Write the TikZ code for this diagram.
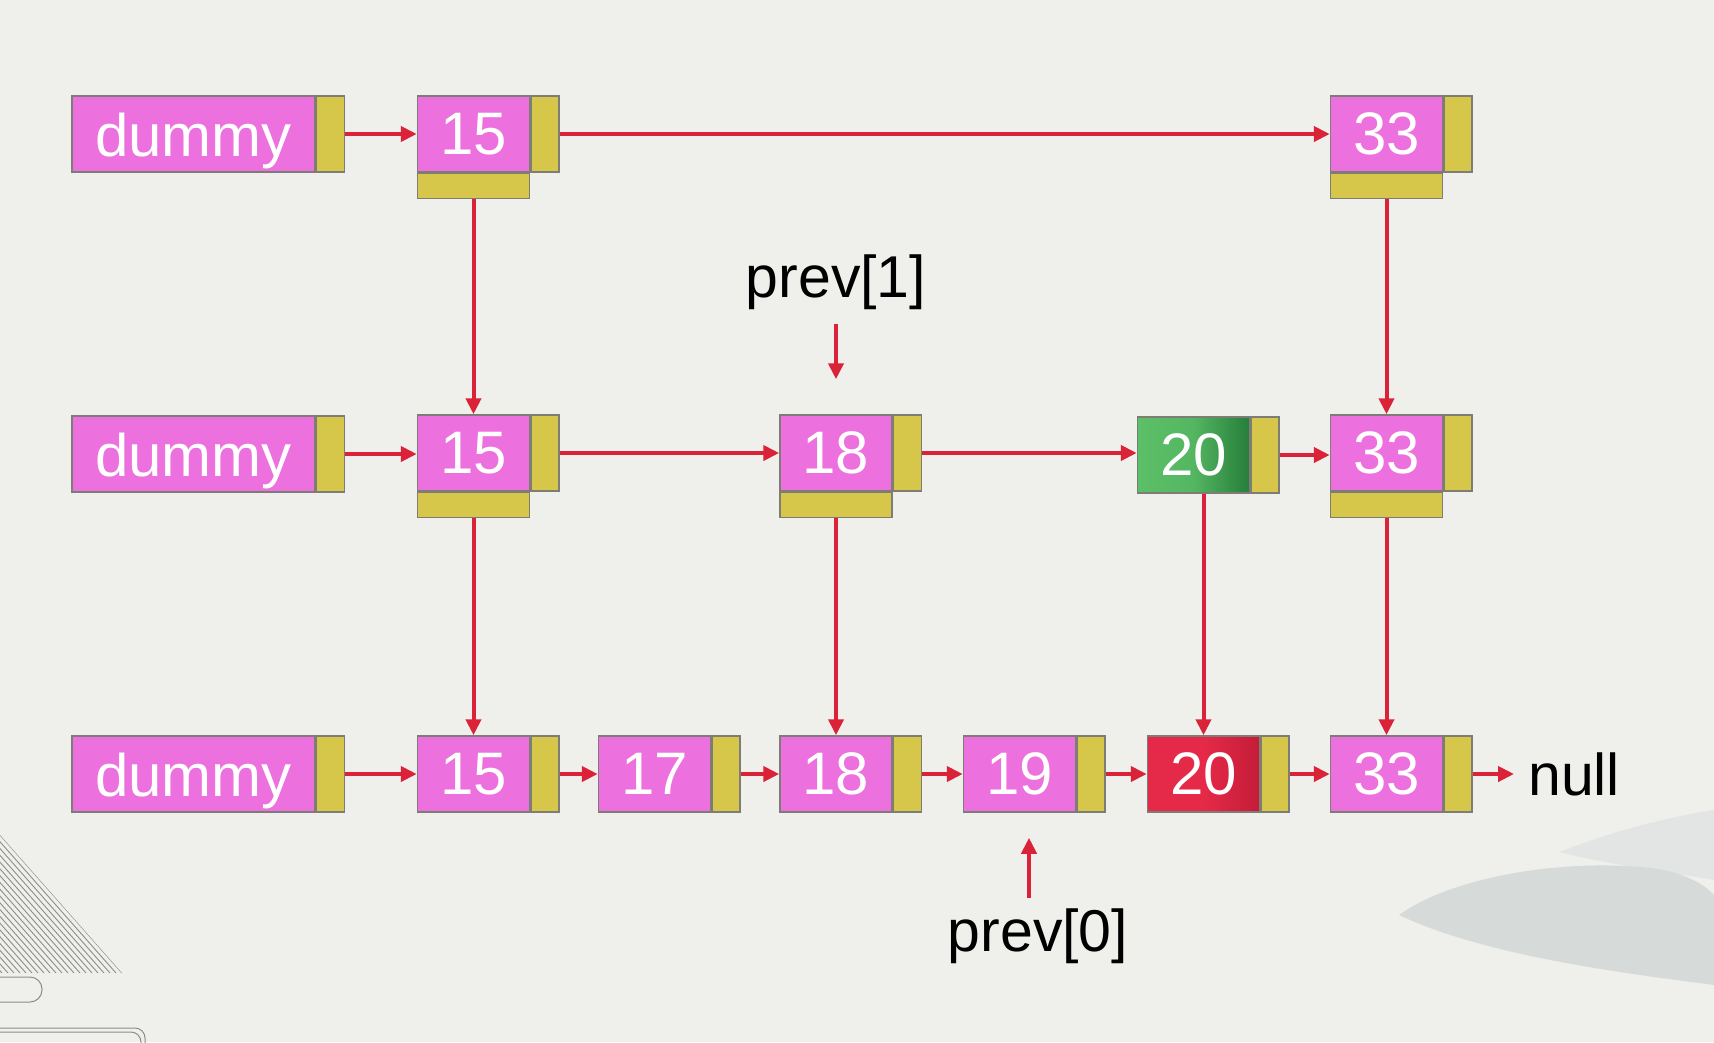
\documentclass[tikz,border=0pt]{standalone}
\usepackage{fontspec}
\setmainfont{Liberation Sans}
\usetikzlibrary{arrows.meta,calc}
\definecolor{bgc}{RGB}{239,239,236}
\definecolor{pinkc}{RGB}{236,112,222}
\definecolor{yelc}{RGB}{214,198,74}
\definecolor{bordc}{RGB}{125,125,118}
\definecolor{arrc}{RGB}{218,34,56}
\definecolor{greenl}{RGB}{92,192,104}
\definecolor{greend}{RGB}{38,125,58}
\definecolor{redl}{RGB}{228,42,72}
\definecolor{redd}{RGB}{196,28,56}
\definecolor{leafa}{RGB}{226,229,227}
\definecolor{leafb}{RGB}{214,218,217}
\definecolor{stripc}{RGB}{140,140,140}
\tikzset{
  pk/.style={draw=bordc, line width=1.5pt, fill=pinkc, minimum width=112pt, minimum height=76pt,
    inner sep=0pt, text=white, font=\fontsize{60}{60}\selectfont},
  dm/.style={pk, minimum width=243pt, text height=56pt, text depth=12pt},
  ys/.style={draw=bordc, line width=1.5pt, fill=yelc, minimum width=28pt, minimum height=76pt, inner sep=0pt},
  yb/.style={draw=bordc, line width=1.5pt, fill=yelc, minimum width=112pt, minimum height=25pt, inner sep=0pt},
  arr/.style={draw=arrc, line width=4pt, -{Triangle[length=16pt,width=15pt]}},
  lbl/.style={font=\fontsize{59}{59}\selectfont, text=black, inner sep=0pt},
  deco/.style={draw=stripc, line width=1pt}
}
\begin{document}
\begin{tikzpicture}[x=1pt,y=-1pt]
\useasboundingbox (0,0) rectangle (1714,1042);
\fill[bgc] (0,0) rectangle (1714,1042);
% background decorations
\fill[leafa] (1560,852) .. controls (1620,828) and (1680,815) .. (1714,810) -- (1714,880) .. controls (1670,872) and (1610,865) .. (1560,852) -- cycle;
\fill[leafb] (1399,915) .. controls (1450,878) and (1560,858) .. (1650,868) .. controls (1685,872) and (1705,885) .. (1714,895) -- (1714,985) .. controls (1640,975) and (1490,958) .. (1399,915) -- cycle;
\begin{scope}
  \clip (0,835) -- (122,973) -- (0,973) -- cycle;
  \foreach \k in {0,6,...,240} {
    \draw[stripc, line width=0.9pt] (-\k,835) -- ++(122,138);
  }
\end{scope}
\draw[deco, rounded corners=12pt] (-20,977) rectangle (42,1002);
\draw[deco, rounded corners=10pt] (-20,1028) rectangle (145,1070);
\draw[deco, rounded corners=10pt] (-20,1032) rectangle (141,1070);
% row 1
\node[dm] (d1) at (193.5,134) {dummy};
\node[ys, anchor=west] (d1y) at (d1.east) {};
\node[pk] (a15) at (473.5,134) {15};
\node[ys, anchor=west] (a15y) at (a15.east) {};
\node[yb, anchor=north] (a15b) at (a15.south) {};
\node[pk] (a33) at (1386.5,134) {33};
\node[ys, anchor=west] (a33y) at (a33.east) {};
\node[yb, anchor=north] (a33b) at (a33.south) {};
% row 2
\node[dm] (d2) at (193.5,454) {dummy};
\node[ys, anchor=west] (d2y) at (d2.east) {};
\node[pk] (b15) at (473.5,453) {15};
\node[ys, anchor=west] (b15y) at (b15.east) {};
\node[yb, anchor=north] (b15b) at (b15.south) {};
\node[pk] (b18) at (836,453) {18};
\node[ys, anchor=west] (b18y) at (b18.east) {};
\node[yb, anchor=north] (b18b) at (b18.south) {};
\node[pk, left color=greenl, right color=greend, middle color=greenl!85!greend] (g20) at (1193.5,455) {20};
\node[ys, anchor=west] (g20y) at (g20.east) {};
\node[pk] (b33) at (1386.5,453) {33};
\node[ys, anchor=west] (b33y) at (b33.east) {};
\node[yb, anchor=north] (b33b) at (b33.south) {};
% row 3
\node[dm] (d3) at (193.5,774) {dummy};
\node[ys, anchor=west] (d3y) at (d3.east) {};
\node[pk] (c15) at (473.5,774) {15};
\node[ys, anchor=west] (c15y) at (c15.east) {};
\node[pk] (c17) at (654.5,774) {17};
\node[ys, anchor=west] (c17y) at (c17.east) {};
\node[pk] (c18) at (836,774) {18};
\node[ys, anchor=west] (c18y) at (c18.east) {};
\node[pk] (c19) at (1019.5,774) {19};
\node[ys, anchor=west] (c19y) at (c19.east) {};
\node[pk, left color=redl, right color=redd, middle color=redl] (c20) at (1203.5,774) {20};
\node[ys, anchor=west] (c20y) at (c20.east) {};
\node[pk] (c33) at (1386.5,774) {33};
\node[ys, anchor=west] (c33y) at (c33.east) {};
\node[lbl, anchor=west] (null) at (1528,774) {null};
% labels
\node[lbl] (p1) at (836,282) {prev[1]};
\node[lbl] (p0) at (1038,936) {prev[0]};
\coordinate (p0a) at (1029,898);
% arrows row 1
\draw[arr] (d1y.east) -- (a15.west);
\draw[arr] (a15y.east) -- (a33.west);
\draw[arr] (a15b.south) -- (b15.north);
\draw[arr] (a33b.south) -- (b33.north);
% arrows row 2
\draw[arr] (d2y.east) -- (d2y.east -| b15.west);
\draw[arr] (b15y.east) -- (b18.west);
\draw[arr] (b18y.east) -- (b18y.east -| g20.west);
\draw[arr] (g20y.east) -- (g20y.east -| b33.west);
\draw[arr] (b15b.south) -- (c15.north);
\draw[arr] (b18b.south) -- (c18.north);
\draw[arr] (c20.north |- g20.south) -- (c20.north);
\draw[arr] (b33b.south) -- (c33.north);
% arrows row 3
\draw[arr] (d3y.east) -- (c15.west);
\draw[arr] (c15y.east) -- (c17.west);
\draw[arr] (c17y.east) -- (c18.west);
\draw[arr] (c18y.east) -- (c19.west);
\draw[arr] (c19y.east) -- (c20.west);
\draw[arr] (c20y.east) -- (c33.west);
\draw[arr, shorten >=14pt] (c33y.east) -- (null.west);
% pointer arrows
\draw[arr, shorten <=14pt, shorten >=35pt] (p1.south) -- (b18.north);
\draw[arr, shorten >=25pt] (p0a) -- (p0a |- c19.south);
\end{tikzpicture}
\end{document}
